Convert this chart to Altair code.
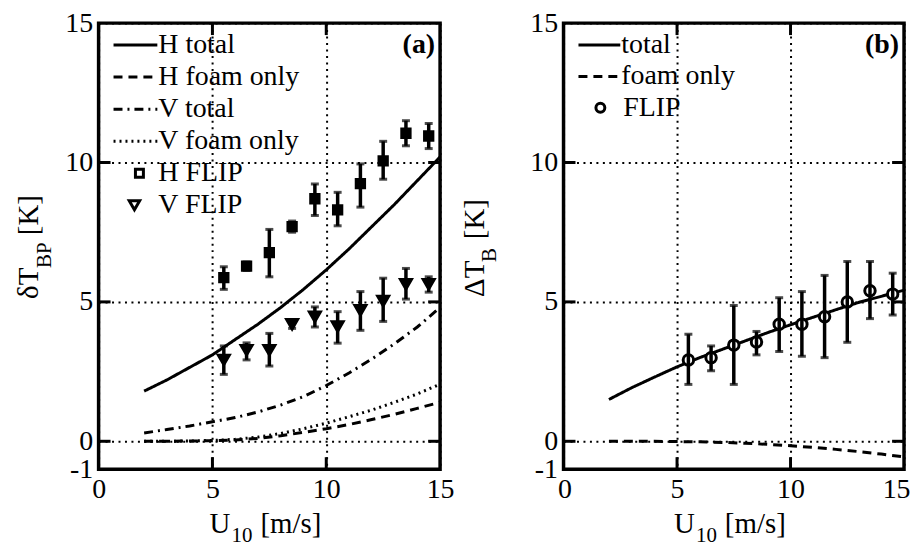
import altair as alt
import pandas as pd

FONT = "Liberation Serif"
WA, WB, H = 343, 342, 448

# ---------------- data ----------------
U_model = [2, 3, 4, 5, 6, 7, 8, 9, 10, 11, 12, 13, 14, 15]
H_total = [1.8, 2.2, 2.65, 3.1, 3.65, 4.2, 4.8, 5.45, 6.15, 6.9, 7.7, 8.5, 9.35, 10.2]
H_foam = [0.0, 0.0, 0.01, 0.02, 0.05, 0.1, 0.2, 0.32, 0.45, 0.6, 0.78, 0.97, 1.18, 1.4]
V_total = [0.3, 0.42, 0.55, 0.7, 0.85, 1.05, 1.3, 1.6, 2.0, 2.45, 2.95, 3.5, 4.1, 4.8]
V_foam = [0.0, 0.0, 0.01, 0.03, 0.07, 0.15, 0.28, 0.45, 0.65, 0.88, 1.12, 1.4, 1.7, 2.05]

B_total = [1.5, 1.92, 2.3, 2.67, 3.0, 3.3, 3.6, 3.9, 4.18, 4.45, 4.72, 4.98, 5.2, 5.42]
B_foam = [0.0, 0.0, 0.0, -0.01, -0.02, -0.04, -0.07, -0.11, -0.16, -0.22, -0.29, -0.37, -0.46, -0.56]

U_flip = [5.5, 6.5, 7.5, 8.5, 9.5, 10.5, 11.5, 12.5, 13.5, 14.5]
H_flip = [5.87, 6.28, 6.77, 7.7, 8.7, 8.3, 9.24, 10.06, 11.05, 10.95]
H_flip_lo = [5.45, 6.13, 5.9, 7.5, 8.1, 7.73, 8.4, 9.4, 10.6, 10.5]
H_flip_hi = [6.26, 6.43, 7.6, 7.9, 9.23, 8.93, 9.95, 10.76, 11.5, 11.4]
V_flip = [2.92, 3.27, 3.27, 4.2, 4.47, 4.12, 4.7, 5.03, 5.63, 5.63]
V_flip_lo = [2.4, 2.92, 2.7, 4.05, 4.1, 3.52, 3.98, 4.3, 5.1, 5.35]
V_flip_hi = [3.42, 3.53, 3.87, 4.35, 4.82, 4.65, 5.37, 5.85, 6.2, 5.9]
B_flip = [2.92, 3.0, 3.45, 3.56, 4.2, 4.2, 4.47, 5.0, 5.4, 5.28]
B_flip_lo = [2.04, 2.53, 2.04, 3.1, 3.22, 3.05, 3.0, 3.55, 4.4, 4.53]
B_flip_hi = [3.84, 3.42, 4.87, 3.94, 5.15, 5.37, 5.95, 6.45, 6.45, 6.03]

x_ticks = [5, 10]
y_ticks = [0, 5, 10]
x_labels = [0, 5, 10, 15]
y_labels = [-1, 0, 5, 10, 15]

legend_a = ["H total", "H foam only", "V total", "V foam only", "H FLIP", "V FLIP"]
legend_b = ["total", "foam only", "FLIP"]

# ---------------- tables ----------------
model_a = pd.DataFrame({"U": U_model, "Ht": H_total, "Hf": H_foam, "Vt": V_total, "Vf": V_foam})
model_b = pd.DataFrame({"U": U_model, "Bt": B_total, "Bf": B_foam})
flip_a = pd.DataFrame({"U": U_flip, "H": H_flip, "Hlo": H_flip_lo, "Hhi": H_flip_hi,
                       "V": V_flip, "Vlo": V_flip_lo, "Vhi": V_flip_hi})
flip_b = pd.DataFrame({"U": U_flip, "B": B_flip, "Blo": B_flip_lo, "Bhi": B_flip_hi})
xt = pd.DataFrame({"v": x_ticks})
yt = pd.DataFrame({"v": y_ticks})
one = pd.DataFrame({"i": [0]})

xscale = alt.Scale(domain=[0, 15], nice=False, zero=False)
yscale = alt.Scale(domain=[-1, 15], nice=False, zero=False)

grid_common = dict(grid=True, gridColor="black", gridDash=[2, 4.5], gridWidth=2, gridOpacity=1,
                   ticks=False, tickSize=0, domain=False, labelFont=FONT, labelFontSize=28,
                   labelColor="black", labelOverlap=False, title=None)
xaxis_a = alt.Axis(values=x_labels, labelPadding=6, labelFlush=False, **grid_common)
xaxis_b = alt.Axis(values=x_labels, labelPadding=6, labelFlush=True, labelFlushOffset=6,
                   **grid_common)
yaxis = alt.Axis(values=y_labels, labelPadding=6,
                 labelExpr="datum.value == -1 ? '-1' : datum.label", **grid_common)

SOLID = [1, 0]
DASH = [9, 6]
DASHDOT = [9, 5, 2, 5]
DOT = [2, 4]


def make_panel(xaxis, W):
    def X(field):
        return alt.X(field, scale=xscale, axis=xaxis)

    def Y(field):
        return alt.Y(field, scale=yscale, axis=yaxis)

    def curve(df, col, dash):
        return alt.Chart(df).mark_line(color="black", strokeWidth=3, strokeDash=dash,
                                       clip=True).encode(x=X("U:Q"), y=Y(col + ":Q"))

    def errbars(df, col, shape, size, fill):
        pts = alt.Chart(df).mark_point(shape=shape, filled=True, fill=fill, stroke="black",
                                       strokeWidth=3, size=size, opacity=1).encode(
            x=X("U:Q"), y=Y(col + ":Q"))
        bar = alt.Chart(df).mark_rule(color="black", strokeWidth=3.5).encode(
            x=X("U:Q"), y=Y(col + "lo:Q"), y2=col + "hi:Q")
        cap_lo = alt.Chart(df).mark_tick(color="black", thickness=3, size=8,
                                         orient="horizontal").encode(x=X("U:Q"), y=Y(col + "lo:Q"))
        cap_hi = alt.Chart(df).mark_tick(color="black", thickness=3, size=8,
                                         orient="horizontal").encode(x=X("U:Q"), y=Y(col + "hi:Q"))
        return [pts, bar, cap_lo, cap_hi]

    def inner_ticks():
        L = 12
        out = []
        for y0, y1 in [(H, H - L), (0, L)]:
            out.append(alt.Chart(xt).mark_rule(color="black", strokeWidth=3).encode(
                x=X("v:Q"), y=alt.value(y0), y2=alt.value(y1)))
        for x0, x1 in [(0, L), (W, W - L)]:
            out.append(alt.Chart(yt).mark_rule(color="black", strokeWidth=3).encode(
                y=Y("v:Q"), x=alt.value(x0), x2=alt.value(x1)))
        return out

    return curve, errbars, inner_ticks


def txt(s, x, y, size=28, align="left", baseline="middle", angle=0, weight="normal"):
    kw = dict(text=s, font=FONT, fontSize=size, align=align, baseline=baseline,
              color="black", fontWeight=weight)
    if angle:
        kw["angle"] = angle
    return alt.Chart(one).mark_text(**kw).encode(x=alt.value(x), y=alt.value(y))


def legend_line(x0, x1, y, dash):
    return alt.Chart(one).mark_rule(color="black", strokeWidth=3, strokeDash=dash).encode(
        x=alt.value(x0), x2=alt.value(x1), y=alt.value(y))


def legend_pt(x, y, shape, size):
    return alt.Chart(one).mark_point(shape=shape, filled=True, fill="white", stroke="black",
                                     strokeWidth=3, size=size, opacity=1).encode(
        x=alt.value(x), y=alt.value(y))


def x_title(cx):
    x0 = cx - 60
    return [txt("U", x0, 512, size=29, baseline="alphabetic"),
            txt("10", x0 + 22, 521, size=21, baseline="alphabetic"),
            txt("[m/s]", x0 + 51, 512, size=29, baseline="alphabetic")]


# ---------------- panel (a) ----------------
curve, errbars, inner_ticks = make_panel(xaxis_a, WA)
rows_a = [22 + 32.2 * i for i in range(6)]
layers_a = [
    curve(model_a, "Ht", SOLID),
    curve(model_a, "Hf", DASH),
    curve(model_a, "Vt", DASHDOT),
    curve(model_a, "Vf", DOT),
]
layers_a += errbars(flip_a, "H", "square", 70, "black")
layers_a += errbars(flip_a, "V", "triangle-down", 120, "black")
layers_a += inner_ticks()
for lab, dash, y in zip(legend_a[:4], [SOLID, DASH, DASHDOT, DOT], rows_a[:4]):
    layers_a.append(legend_line(15, 59, y, dash))
    layers_a.append(txt(lab, 60, y))
layers_a.append(legend_pt(41, rows_a[4], "square", 64))
layers_a.append(txt(legend_a[4], 60, rows_a[4]))
layers_a.append(legend_pt(36, rows_a[5], "triangle-down", 110))
layers_a.append(txt(legend_a[5], 60, rows_a[5]))
layers_a.append(txt("(a)", 338, 22, weight="bold", align="right"))
layers_a += x_title(WA / 2)
layers_a += [txt("δT", -61, 277, size=29, baseline="alphabetic", angle=270),
             txt("BP", -48, 246, size=21, baseline="alphabetic", angle=270),
             txt("[K]", -61, 213, size=29, baseline="alphabetic", angle=270)]
panel_a = alt.layer(*layers_a).properties(width=WA, height=H)

# ---------------- panel (b) ----------------
curve, errbars, inner_ticks = make_panel(xaxis_b, WB)
rows_b = [22, 53.5, 85]
layers_b = [
    curve(model_b, "Bt", SOLID),
    curve(model_b, "Bf", DASH),
]
layers_b += errbars(flip_b, "B", "circle", 110, "white")
layers_b += inner_ticks()
for lab, dash, y in zip(legend_b[:2], [SOLID, DASH], rows_b[:2]):
    layers_b.append(legend_line(15, 57, y, dash))
    layers_b.append(txt(lab, 58, y))
layers_b.append(legend_pt(37, rows_b[2], "circle", 80))
layers_b.append(txt(legend_b[2], 60, rows_b[2]))
layers_b.append(txt("(b)", 337, 22, weight="bold", align="right"))
layers_b += x_title(WB / 2)
layers_b += [txt("ΔT", -80, 275, size=29, baseline="alphabetic", angle=270),
             txt("B", -68, 240, size=21, baseline="alphabetic", angle=270),
             txt("[K]", -80, 217, size=29, baseline="alphabetic", angle=270)]
panel_b = alt.layer(*layers_b).properties(width=WB, height=H)

chart = alt.hconcat(panel_a, panel_b, spacing=3).properties(
    padding={"left": 5, "right": 0, "top": -2, "bottom": 0},
    background="white",
).configure_view(stroke="black", strokeWidth=3.5)

chart.save("out.html", embed_options={"renderer": "svg", "actions": False})
